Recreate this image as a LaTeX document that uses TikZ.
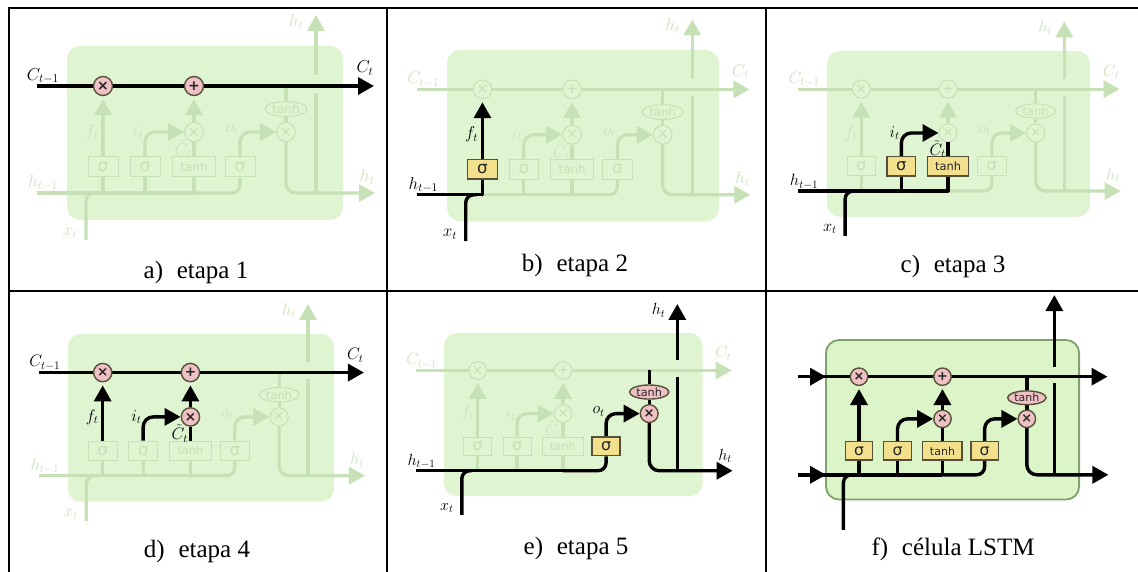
\documentclass[tikz,border=0pt]{standalone}
\usepackage{fontspec}
\setmainfont{Liberation Serif}
\newfontfamily\djv{DejaVu Sans}
\usetikzlibrary{arrows.meta,shapes.geometric}
\pgfdeclarelayer{bg}\pgfdeclarelayer{fl}\pgfdeclarelayer{fn}\pgfdeclarelayer{al}\pgfdeclarelayer{an}
\pgfsetlayers{bg,fl,fn,al,an,main}
\definecolor{fline}{HTML}{C6E1B6}
\definecolor{ftext}{HTML}{CBE2BE}
\definecolor{fbox}{HTML}{DFF4D1}
\definecolor{abox}{HTML}{DCF5C8}
\definecolor{aborder}{HTML}{7FA06C}
\definecolor{pinkn}{HTML}{EFC0C4}
\definecolor{yelln}{HTML}{F3E08C}
\definecolor{edgen}{HTML}{55503A}
\newif\ifFadedOn
\newcommand\lw{3.4pt}
\newcommand\topY{-31}
\newcommand\botY{194}
\tikzset{
 arr/.style={-{Triangle[length=16pt,width=17pt]}},
 faded/.style={
  ln/.style={draw=fline,line width=3.2pt},
  sg/.style={rectangle,draw=fline,fill=fbox,text=fline,line width=1pt,inner sep=0pt,minimum height=20pt,font=\djv\fontsize{17}{17}\selectfont},
  mu/.style={circle,draw=fline,fill=fbox,text=fline,line width=1pt,inner sep=0pt,minimum size=19pt,font=\djv\fontsize{14}{14}\selectfont},
  elp/.style={ellipse,draw=fline,fill=fbox,text=fline,line width=1pt,inner sep=0pt,minimum width=42pt,minimum height=15pt,font=\djv\fontsize{12}{12}\selectfont},
  lb/.style={text=ftext,inner sep=0pt,font=\fontsize{18}{20}\selectfont},
  bxs/.style={rectangle,rounded corners=13pt,fill=fbox,minimum width=276pt,minimum height=174pt}},
 active/.style={
  ln/.style={draw=black,line width=\lw},
  sg/.style={rectangle,draw=edgen,fill=yelln,text=black!85,line width=1.4pt,inner sep=0pt,minimum height=20pt,font=\djv\fontsize{17}{17}\selectfont},
  mu/.style={circle,draw=edgen,fill=pinkn,text=black!85,line width=1.4pt,inner sep=0pt,minimum size=19pt,font=\djv\bfseries\fontsize{14}{14}\selectfont},
  elp/.style={ellipse,draw=edgen,fill=pinkn,text=black!85,line width=1.4pt,inner sep=0pt,minimum width=42pt,minimum height=15pt,font=\djv\fontsize{12}{12}\selectfont},
  lb/.style={text=black,inner sep=0pt,font=\fontsize{18}{20}\selectfont},
  bxs/.style={rectangle,rounded corners=13pt,fill=abox,draw=aborder,line width=1.8pt,minimum width=276pt,minimum height=174pt}},
 capt/.style={inner sep=0pt,font=\fontsize{25}{27}\selectfont}
}
% #1 key, #2 layer kind (l or n), #3 code
\newcommand\cpart[3]{%
 \ifcsname on@\pn @#1\endcsname
  \begin{pgfonlayer}{a#2}\begin{scope}[active]#3\end{scope}\end{pgfonlayer}%
 \else\ifFadedOn
  \begin{pgfonlayer}{f#2}\begin{scope}[faded]#3\end{scope}\end{pgfonlayer}%
 \fi\fi}
\newcommand\onlyon[3]{%
 \ifcsname on@\pn @#1\endcsname
  \begin{pgfonlayer}{a#2}\begin{scope}[active]#3\end{scope}\end{pgfonlayer}%
 \fi}
\newcommand\lstm[5]{% name, ox, oy, scale, active list
 \def\pn{#1}%
 \foreach \k in {#5}{\expandafter\gdef\csname on@#1@\k\endcsname{}}%
 \begin{scope}[shift={(#2,#3)},scale=#4,transform shape]
 % free ends
 \coordinate (\pn-cs) at (-30,40);
 \coordinate (\pn-ce) at (307,40);
 \coordinate (\pn-cj) at (219,40);
 \coordinate (\pn-cin) at (0,40);
 \coordinate (\pn-hs) at (-30,147);
 \coordinate (\pn-hin) at (0,147);
 \coordinate (\pn-he) at (308,147);
 \coordinate (\pn-j1) at (36,147);
 \coordinate (\pn-j2) at (78,147);
 \coordinate (\pn-j3) at (127,147);
 \coordinate (\pn-j4) at (249,147);
 \coordinate (\pn-xs) at (19,\botY);
 \coordinate (\pn-xm) at (19,147);
 \coordinate (\pn-xe) at (30,147);
 \coordinate (\pn-gl) at (249,47);
 \coordinate (\pn-gu) at (249,29);
 \coordinate (\pn-top) at (249,\topY);
 % cell
 \ifcsname on@#1@box\endcsname
  \begin{pgfonlayer}{bg}\begin{scope}[active]\node[bxs] (\pn-box) at (138,87) {};\end{scope}\end{pgfonlayer}%
 \else
  \begin{pgfonlayer}{bg}\begin{scope}[faded]\node[bxs] (\pn-box) at (138,87) {};\end{scope}\end{pgfonlayer}%
 \fi
 % operators
 \cpart{mf}{n}{\node[mu] (\pn-mf) at (36,40) {×};}
 \cpart{pl}{n}{\node[mu] (\pn-pl) at (127,40) {+};}
 \cpart{mi}{n}{\node[mu] (\pn-mi) at (127,86) {×};}
 \cpart{mo}{n}{\node[mu] (\pn-mo) at (219,86) {×};}
 \cpart{tanh}{n}{\node[elp] (\pn-tanh) at (219,63) {tanh};}
 \cpart{sf}{n}{\node[sg,minimum width=30pt] (\pn-sf) at (36,121) {σ};}
 \cpart{si}{n}{\node[sg,minimum width=30pt] (\pn-si) at (78,121) {σ};}
 \cpart{st}{n}{\node[sg,minimum width=43pt,font=\djv\fontsize{12}{12}\selectfont] (\pn-st) at (127,121) {tanh};}
 \cpart{so}{n}{\node[sg,minimum width=30pt] (\pn-so) at (173,121) {σ};}
 % labels
 \ifFadedOn
 \cpart{labCi}{n}{\node[lb] (\pn-lci) at (-24,30) {$C_{t-1}$};}
 \cpart{labCo}{n}{\node[lb] (\pn-lco) at (298,22) {$C_t$};}
 \cpart{labhi}{n}{\node[lb] (\pn-lhi) at (-24,137) {$h_{t-1}$};}
 \cpart{labho}{n}{\node[lb] (\pn-lho) at (300,131) {$h_t$};}
 \cpart{labht}{n}{\node[lb] (\pn-lht) at (229,-24) {$h_t$};}
 \cpart{labx}{n}{\node[lb] (\pn-lx) at (3,187) {$x_t$};}
 \cpart{labf}{n}{\node[lb] (\pn-lf) at (25,86) {$f_t$};}
 \cpart{labi}{n}{\node[lb] (\pn-li) at (71,86) {$i_t$};}
 \cpart{labt}{n}{\node[lb] (\pn-lt) at (116,103) {$\tilde{C}_t$};}
 \cpart{labo}{n}{\node[lb] (\pn-lo) at (165,84) {$o_t$};}
 \fi
 % connectors
 \cpart{C}{l}{\draw[ln,arr] (\pn-cs) -- (\pn-ce);}
 \cpart{hin}{l}{\draw[ln] (\pn-hs) -- (\pn-j1);}
 \cpart{hf}{l}{\draw[ln] (\pn-j1) -- (\pn-j2);}
 \cpart{hi}{l}{\draw[ln] (\pn-j2) -- (\pn-j3);}
 \cpart{ho}{l}{\draw[ln,rounded corners=8pt] (\pn-j3) -- (\pn-so |- \pn-j3) -- (\pn-so.south);}
 \cpart{xin}{l}{\draw[ln,rounded corners=8pt] (\pn-xs) -- (\pn-xm) -- (\pn-xe);}
 \cpart{sfb}{l}{\draw[ln,line cap=round] (\pn-j1) -- (\pn-sf.south);}
 \cpart{sib}{l}{\draw[ln] (\pn-j2) -- (\pn-si.south);}
 \cpart{stb}{l}{\draw[ln,line cap=round] (\pn-j3) -- (\pn-st.south);}
 \cpart{fup}{l}{\draw[ln,arr,shorten >=3pt] (\pn-sf.north) -- (\pn-mf.south);}
 \cpart{iup}{l}{\draw[ln,arr,rounded corners=10pt] (\pn-si.north) -- (\pn-si |- \pn-mi) -- (\pn-mi.west);}
 \cpart{tup}{l}{\draw[ln] (\pn-st.north) -- (\pn-mi.south);}
 \cpart{mup}{l}{\draw[ln,arr,shorten >=3pt] (\pn-mi.north) -- (\pn-pl.south);}
 \cpart{oup}{l}{\draw[ln,arr,rounded corners=10pt] (\pn-so.north) -- (\pn-so |- \pn-mo) -- (\pn-mo.west);}
 \cpart{cd}{l}{\draw[ln] (\pn-cj) -- (\pn-tanh.north);}
 \cpart{tm}{l}{\draw[ln] (\pn-tanh.south) -- (\pn-mo.north);}
 \cpart{hout}{l}{\draw[ln,arr,rounded corners=10pt] (\pn-mo.south) -- (\pn-mo |- \pn-he) -- (\pn-he);}
 \cpart{ht1}{l}{\draw[ln] (\pn-j4) -- (\pn-gl);}
 \cpart{ht2}{l}{\draw[ln,arr] (\pn-gu) -- (\pn-top);}
 \onlyon{inC}{l}{\draw[ln,arr] (\pn-cs) -- (\pn-cin);}
 \onlyon{inH}{l}{\draw[ln,arr] (\pn-hs) -- (\pn-hin);}
 \end{scope}}
\begin{document}
\begin{tikzpicture}[x=1pt,y=-1pt]
\useasboundingbox (0,0) rectangle (1138,572);
\begin{pgfonlayer}{bg}\fill[white] (0,0) rectangle (1138,572);\end{pgfonlayer}
\FadedOntrue
\lstm{a}{67}{46}{1}{C,mf,pl,labCi,labCo}
\lstm{b}{447}{50}{0.985}{hin,sfb,fup,xin,sf,labhi,labx,labf}
\lstm{c}{827}{51}{0.953}{hin,hf,hi,sib,stb,iup,tup,xin,si,st,labhi,labx,labi,labt}
\lstm{d}{68}{334}{0.964}{C,mf,pl,mi,fup,iup,tup,mup,labCi,labCo,labf,labi,labt}
\lstm{e}{444}{333}{0.937}{hin,hf,hi,ho,xin,so,oup,mo,tanh,cd,tm,hout,ht1,ht2,labhi,labx,labo,labho,labht}
\FadedOnfalse
\renewcommand\topY{-49}
\renewcommand\botY{207}
\lstm{f}{826}{340}{0.917}{box,C,mf,pl,mi,mo,tanh,sf,si,st,so,hin,hf,hi,ho,xin,sfb,sib,stb,fup,iup,tup,mup,oup,cd,tm,hout,ht1,ht2,inC,inH}
% captions
\node[capt] (capa) at (196,272) {a)\hspace{.55em}etapa 1};
\node[capt] (capb) at (575,265) {b)\hspace{.55em}etapa 2};
\node[capt] (capc) at (953,266) {c)\hspace{.55em}etapa 3};
\node[capt] (capd) at (197,551) {d)\hspace{.55em}etapa 4};
\node[capt] (cape) at (576,548) {e)\hspace{.55em}etapa 5};
\node[capt] (capf) at (953,549) {f)\hspace{.55em}célula LSTM};
% table rules
\draw[line width=2pt] (8,8) -- (1138,8);
\draw[line width=2pt] (8,291) -- (1138,291);
\draw[line width=2pt] (9,8) -- (9,572);
\draw[line width=2pt] (387,8) -- (387,572);
\draw[line width=2pt] (766,8) -- (766,572);
\end{tikzpicture}
\end{document}
